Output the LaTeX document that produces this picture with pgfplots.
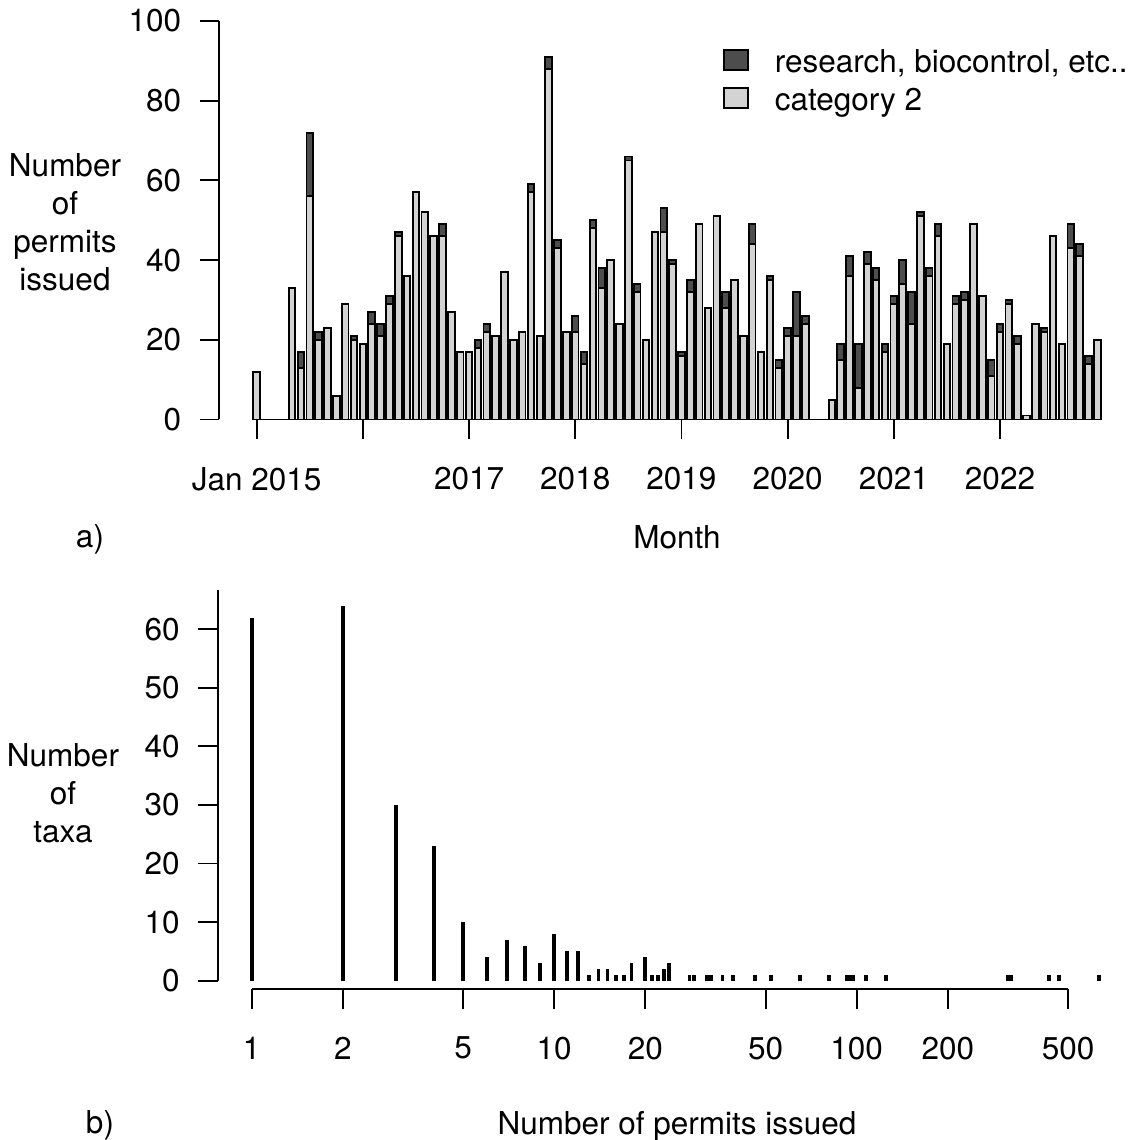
\documentclass[border=0pt]{standalone}
\usepackage{pgfplots}
\pgfplotsset{compat=1.18}
\usepackage{fontspec}
\setmainfont{TeX Gyre Heros}
\definecolor{darkbar}{RGB}{77,77,77}
\definecolor{lightbar}{RGB}{211,211,211}
\newcommand{\fs}{\fontsize{31.5}{38}\selectfont}
\begin{document}
\begin{tikzpicture}
\useasboundingbox (0pt,0pt) rectangle (1136pt,1140pt);
% ---------------- panel a ----------------
\begin{axis}[
  at={(219.3pt,720.5pt)}, anchor=south west,
  scale only axis, width=890.7pt, height=398.5pt,
  xmin=-4.226, xmax=96.43, ymin=0, ymax=100,
  clip=false,
  axis x line*=bottom, axis y line*=left,
  x axis line style={draw=none},
  y axis line style={-, line width=1.875pt},
  tick align=outside, major tick length=19.5pt,
  tick style={black, line width=1.875pt},
  xtick={0,12,24,36,48,60,72,84},
  xticklabels={Jan 2015,,2017,2018,2019,2020,2021,2022},
  ytick={0,20,40,60,80,100},
  yticklabels={0,20,40,60,80,100},
  tick label style={font=\fs},
  xticklabel style={anchor=north, inner ysep=28pt},
  yticklabel style={anchor=east, inner xsep=18.5pt},
  ybar stacked, bar width=6.6pt,
  every axis x label/.style={at={(axis description cs:0.5139,-0.3225)}, anchor=base, font=\fs},
  every axis y label/.style={at={(axis description cs:-0.17324,0.4956)}, anchor=center, align=center, font=\fs},
  xlabel={Month},
  ylabel={Number\\of\\permits\\issued},
  reverse legend,
  legend cell align=left,
  legend image code/.code={\draw[#1, line width=1.875pt] (0pt,-5.3pt) rectangle (24pt,14.7pt);},
  legend style={draw=none, fill=none, inner sep=0pt,
    at={(axis description cs:0.5652,0.9296)}, anchor=north west,
    font=\fs, row sep=8.4pt,
    nodes={inner sep=0pt, text height=22pt, text depth=6pt},
    /tikz/every odd column/.append style={column sep=26pt}},
]
\addplot[fill=lightbar, draw=black, line width=1.875pt] coordinates {
(0,12)(1,0)(2,0)(3,0)(4,33)(5,13)(6,56)(7,20)(8,23)(9,6)(10,29)(11,20)
(12,19)(13,24)(14,21)(15,29)(16,46)(17,36)(18,57)(19,52)(20,46)(21,46)(22,27)(23,17)
(24,17)(25,18)(26,22)(27,21)(28,37)(29,20)(30,22)(31,57)(32,21)(33,88)(34,43)(35,22)
(36,22)(37,14)(38,48)(39,33)(40,40)(41,24)(42,65)(43,32)(44,20)(45,47)(46,47)(47,39)
(48,16)(49,32)(50,49)(51,28)(52,51)(53,28)(54,35)(55,21)(56,44)(57,17)(58,35)(59,13)
(60,21)(61,21)(62,24)(63,0)(64,0)(65,5)(66,15)(67,36)(68,8)(69,39)(70,35)(71,17)
(72,29)(73,34)(74,24)(75,51)(76,36)(77,46)(78,19)(79,29)(80,30)(81,49)(82,31)(83,11)
(84,22)(85,29)(86,19)(87,1)(88,24)(89,22)(90,46)(91,19)(92,43)(93,41)(94,14)(95,20)
};
\addlegendentry{category 2}
\addplot[fill=darkbar, draw=black, line width=1.875pt] coordinates {
(0,0)(1,0)(2,0)(3,0)(4,0)(5,4)(6,16)(7,2)(8,0)(9,0)(10,0)(11,1)
(12,0)(13,3)(14,3)(15,2)(16,1)(17,0)(18,0)(19,0)(20,0)(21,3)(22,0)(23,0)
(24,0)(25,2)(26,2)(27,0)(28,0)(29,0)(30,0)(31,2)(32,0)(33,3)(34,2)(35,0)
(36,4)(37,3)(38,2)(39,5)(40,0)(41,0)(42,1)(43,2)(44,0)(45,0)(46,6)(47,1)
(48,1)(49,3)(50,0)(51,0)(52,0)(53,4)(54,0)(55,0)(56,5)(57,0)(58,1)(59,2)
(60,2)(61,11)(62,2)(63,0)(64,0)(65,0)(66,4)(67,5)(68,11)(69,3)(70,3)(71,2)
(72,2)(73,6)(74,8)(75,1)(76,2)(77,3)(78,0)(79,2)(80,2)(81,0)(82,0)(83,4)
(84,2)(85,1)(86,2)(87,0)(88,0)(89,1)(90,0)(91,0)(92,6)(93,3)(94,2)(95,0)
};
\addlegendentry{research, biocontrol, etc..}
\draw[line width=1.875pt] (axis cs:-0.47,0) -- (axis cs:95.47,0);
\end{axis}
\node[anchor=base, font=\fs] at (90pt,592pt) {a)};
% ---------------- panel b ----------------
\begin{axis}[
  at={(218.3pt,150.7pt)}, anchor=south west,
  scale only axis, width=915.7pt, height=399.3pt,
  xmode=log, xmin=0.7754, xmax=825.3, ymin=-1.468, ymax=66.7,
  clip=false,
  axis x line*=bottom, axis y line*=left,
  axis line style={draw=none},
  tick align=outside, major tick length=20pt,
  tick style={black, line width=1.875pt},
  xtick={1,2,5,10,20,50,100,200,500},
  xticklabels={1,2,5,10,20,50,100,200,500},
  xminorticks=false,
  ytick={0,10,20,30,40,50,60},
  yticklabels={0,10,20,30,40,50,60},
  tick label style={font=\fs},
  xticklabel style={anchor=north, inner ysep=27.5pt},
  yticklabel style={anchor=east, inner xsep=18.5pt},
  every axis x label/.style={at={(axis description cs:0.5009,-0.3624)}, anchor=base, font=\fs},
  every axis y label/.style={at={(axis description cs:-0.1696,0.4916)}, anchor=center, align=center, font=\fs},
  xlabel={Number of permits issued},
  ylabel={Number\\of\\taxa},
]
\addplot[ycomb, black, line width=3.8pt, line cap=butt] coordinates {
(1,62)(2,64)(3,30)(4,23)(5,10)(6,4)(7,7)(8,6)(9,3)(10,8)(11,5)(12,5)(13,1)(14,2)
(15,2)(16,1)(17,1)(18,3)(20,4)(21,1)(22,1)(23,2)(24,3)(28,1)(29,1)(32,1)(33,1)
(36,1)(39,1)(46,1)(52,1)(65,1)(81,1)(93,1)(96,1)(97,1)(107,1)(125,1)(317,1)
(325,1)(432,1)(466,1)(634,1)
};
\draw[line width=1.875pt] (axis cs:0.7754,0) -- (axis cs:0.7754,66.7);
\draw[line width=1.875pt] (axis cs:1,-1.468) -- (axis cs:500,-1.468);
\end{axis}
\node[anchor=base, font=\fs] at (100pt,6pt) {b)};
\end{tikzpicture}
\end{document}
